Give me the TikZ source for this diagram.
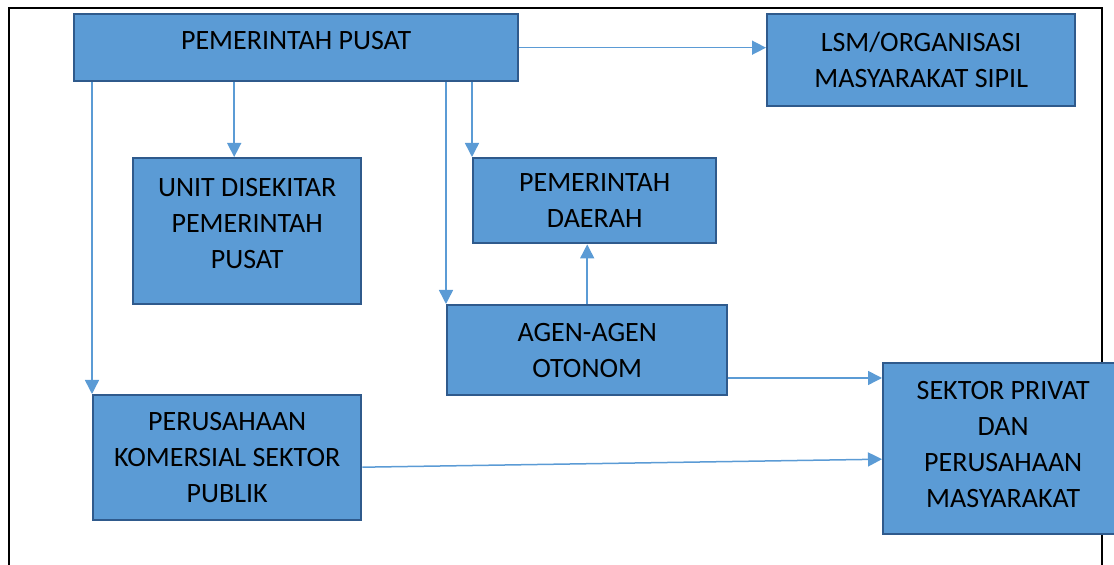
\documentclass[tikz,border=0pt]{standalone}
\usepackage{fontspec}
\setmainfont{Carlito}
\usepackage{tikz}
\usetikzlibrary{arrows.meta, positioning}
\definecolor{boxfill}{HTML}{5B9BD5}
\definecolor{boxline}{HTML}{2F5A8C}
\definecolor{arrline}{HTML}{5B9BD5}

\begin{document}
\begin{tikzpicture}[
    x=0.5pt, y=-0.5pt,
    font=\fontsize{14}{18}\selectfont,
    box/.style={draw=boxline, line width=1.2pt, fill=boxfill, align=center, anchor=north west, inner sep=0pt},
    arr/.style={-{Triangle[length=7pt, width=7pt]}, line width=0.75pt, arrline},
    frame/.style={line width=1.3pt, black}
]

% ===== CANVAS =====
\clip (0,0) rectangle (1114,565);
\draw[frame] (9,580) -- (9,8) -- (1102,8) -- (1102,580);

% ===== TOP ROW =====
\node[box, minimum width=222pt, minimum height=33.5pt, text depth=7pt] (pusat) at (73,13) {PEMERINTAH PUSAT};
\node[box, minimum width=154pt, minimum height=46pt] (lsm) at (766,13) {LSM/ORGANISASI\\MASYARAKAT SIPIL};

% ===== MIDDLE ROW =====
\node[box, minimum width=114pt, minimum height=73pt, text depth=8pt] (unit) at (132,157) {UNIT DISEKITAR\\PEMERINTAH\\PUSAT};
\node[box, minimum width=121.5pt, minimum height=42.5pt] (daerah) at (472,157) {PEMERINTAH\\DAERAH};
\node[box, minimum width=140pt, minimum height=45pt] (agen) at (446,304) {AGEN-AGEN\\OTONOM};

% ===== BOTTOM ROW =====
\node[box, minimum width=134pt, minimum height=62.5pt] (komersial) at (92,394) {PERUSAHAAN\\KOMERSIAL SEKTOR\\PUBLIK};
\node[box, minimum width=120pt, minimum height=85.5pt, text depth=4pt] (sektor) at (882,362) {SEKTOR PRIVAT\\DAN\\PERUSAHAAN\\MASYARAKAT};

% ===== CONNECTIONS =====
% from the central government
\draw[arr] (komersial.north west |- pusat.south) -- (komersial.north west);
\draw[arr] ([xshift=-6.5pt]unit.north |- pusat.south) -- ([xshift=-6.5pt]unit.north);
\draw[arr] (agen.north west |- pusat.south) -- (agen.north west);
\draw[arr] (daerah.north west |- pusat.south) -- (daerah.north west);
\draw[arr] (pusat.east) -- (lsm.west |- pusat.east);

% autonomous agencies
\draw[arr] (agen.north) -- (agen.north |- daerah.south);
\draw[arr] ([yshift=-8pt]sektor.north west -| agen.east) -- ([yshift=-8pt]sektor.north west);

% public sector companies
\draw[arr] ([yshift=-4.75pt]komersial.east) -- ([yshift=-5.25pt]sektor.west);

\end{tikzpicture}
\end{document}
